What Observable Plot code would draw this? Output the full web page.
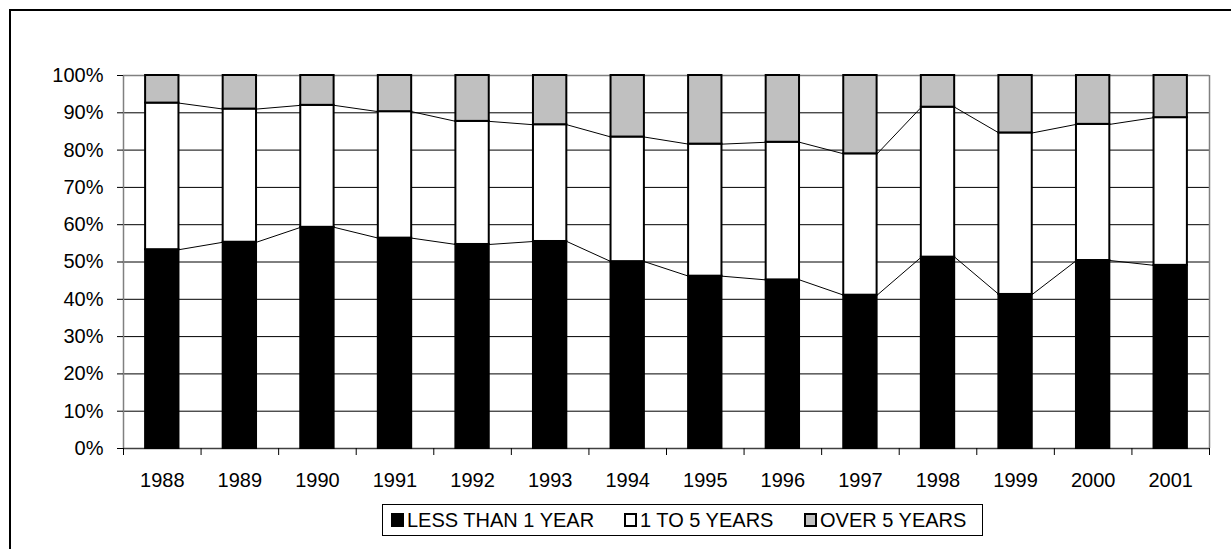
<!DOCTYPE html>
<html>
<head>
<meta charset="utf-8">
<script src="https://cdn.jsdelivr.net/npm/d3@7"></script>
<script src="https://cdn.jsdelivr.net/npm/@observablehq/plot@0.6"></script>
<style>
  html, body { margin: 0; padding: 0; background: #fff; }
  body { width: 1231px; height: 549px; position: relative; overflow: hidden; font-family: "Liberation Sans", Arial, sans-serif; }
  #frame { position: absolute; left: 9px; top: 9px; width: 1400px; height: 700px; border: 2px solid #000; box-sizing: border-box; }
  #chart { position: absolute; left: 0; top: 0; }
  #legend { position: absolute; left: 382px; top: 504px; width: 601px; height: 32px; box-sizing: border-box;
            border: 1px solid #000; font-size: 20px; color: #000; white-space: nowrap; }
  .item { position: absolute; top: 0; height: 30px; display: flex; align-items: center; }
  .sw { width: 9px; height: 10px; border: 2px solid #000; margin-right: 3px; box-sizing: content-box; }
</style>
</head>
<body>
<div id="frame"></div>
<div id="chart"></div>
<div id="legend"></div>
<script>
const years = [1988, 1989, 1990, 1991, 1992, 1993, 1994, 1995, 1996, 1997, 1998, 1999, 2000, 2001];
const lessThan1 = [53.3, 55.3, 59.3, 56.4, 54.7, 55.5, 50.1, 46.2, 45.2, 41.1, 51.3, 41.3, 50.4, 49.1];
const oneTo5    = [39.3, 35.7, 32.7, 33.9, 33.0, 31.3, 33.4, 35.4, 36.9, 37.9, 40.2, 43.3, 36.5, 39.6];
const over5     = [7.4, 9.0, 8.0, 9.7, 12.3, 13.2, 16.5, 18.4, 17.9, 21.0, 8.5, 15.4, 13.1, 11.3];
const seriesNames = ["LESS THAN 1 YEAR", "1 TO 5 YEARS", "OVER 5 YEARS"];
const seriesColors = ["#000000", "#ffffff", "#c0c0c0"];
const yTicks = [0, 10, 20, 30, 40, 50, 60, 70, 80, 90, 100];

const seriesValues = [lessThan1, oneTo5, over5];
const rows = [];
seriesNames.forEach((s, k) => years.forEach((yr, i) => rows.push({year: yr, series: s, value: seriesValues[k][i]})));

// series lines between adjacent bars (cumulative tops of first two segments)
const links = [];
for (let i = 0; i < years.length - 1; i++) {
  links.push({x1: years[i], x2: years[i + 1], y1: lessThan1[i], y2: lessThan1[i + 1]});
  links.push({x1: years[i], x2: years[i + 1], y1: lessThan1[i] + oneTo5[i], y2: lessThan1[i + 1] + oneTo5[i + 1]});
}
const half = 0.215;
const bounds = years.map(y => y - 0.5).concat([years[years.length - 1] + 0.5]);
const x0 = years[0] - 0.5, xN = years[years.length - 1] + 0.5;

const chart = Plot.plot({
  width: 1231,
  height: 495,
  marginTop: 75,
  marginLeft: 123,
  marginRight: 22,
  marginBottom: 47,
  style: {fontFamily: '"Liberation Sans", Arial, sans-serif', fontSize: "20px", color: "#000", background: "transparent"},
  x: {type: "linear", domain: [x0, xN]},
  y: {domain: [0, 100]},
  color: {domain: seriesNames, range: seriesColors},
  marks: [
    Plot.gridY(yTicks, {stroke: "#000", strokeOpacity: 1, strokeWidth: 1}),
    Plot.ruleX([x0], {stroke: "#808080", strokeWidth: 1.5}),
    Plot.ruleX([xN], {stroke: "#808080", strokeWidth: 1.5}),
    Plot.ruleY([100], {stroke: "#808080", strokeWidth: 1.5}),
    Plot.ruleY([0], {stroke: "#404040", strokeWidth: 1.5}),
    Plot.rectY(rows, Plot.stackY({
      x1: d => d.year - half, x2: d => d.year + half,
      y: "value", z: "series", fill: "series", order: null,
      stroke: "#000", strokeWidth: 2
    })),
    Plot.link(links, {
      x1: d => d.x1 + half, x2: d => d.x2 - half, y1: "y1", y2: "y2",
      stroke: "#000", strokeWidth: 1
    }),
    Plot.axisY(yTicks, {tickFormat: d => d + "%", tickSize: 6, tickPadding: 14, fontSize: 20, stroke: "#000", fill: "#000"}),
    Plot.axisX(years, {tickFormat: d => String(d), tickSize: 0, tickPadding: 24, fontSize: 20, fill: "#000"}),
    Plot.axisX(bounds, {tickFormat: () => "", tickSize: 7, stroke: "#000"})
  ]
});
document.getElementById("chart").appendChild(chart);

const legend = document.getElementById("legend");
const itemLefts = [8, 241, 421];
seriesNames.forEach((s, k) => {
  const item = document.createElement("div");
  item.className = "item";
  item.style.left = itemLefts[k] + "px";
  const sw = document.createElement("span");
  sw.className = "sw";
  sw.style.background = seriesColors[k];
  item.appendChild(sw);
  item.appendChild(document.createTextNode(s));
  legend.appendChild(item);
});
</script>
</body>
</html>
